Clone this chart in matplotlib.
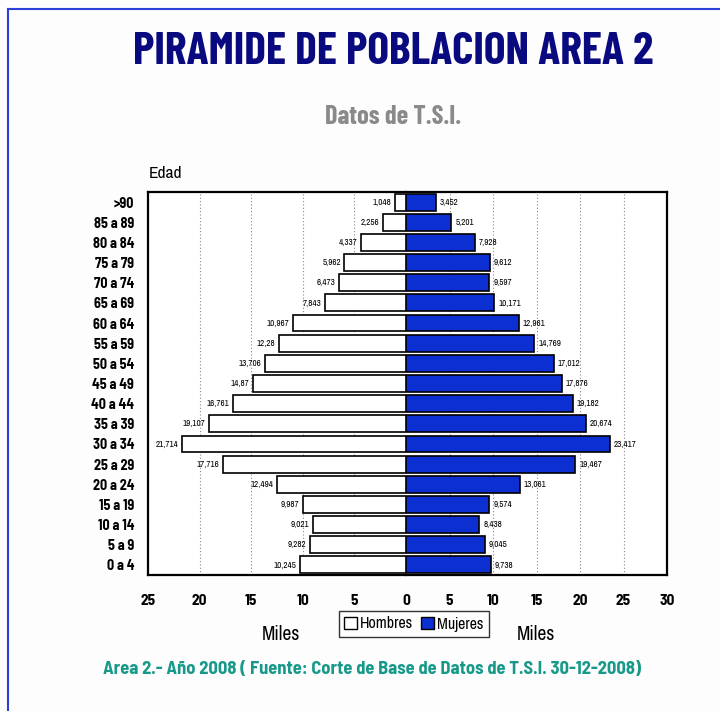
import matplotlib
matplotlib.use("Agg")
import matplotlib.pyplot as plt
from matplotlib.patches import Patch
from matplotlib.lines import Line2D

ages = ["0 a 4", "5 a 9", "10 a 14", "15 a 19", "20 a 24", "25 a 29", "30 a 34",
        "35 a 39", "40 a 44", "45 a 49", "50 a 54", "55 a 59", "60 a 64", "65 a 69",
        "70 a 74", "75 a 79", "80 a 84", "85 a 89", ">90"]
hombres = [10.245, 9.282, 9.021, 9.987, 12.494, 17.716, 21.714, 19.107, 16.761, 14.87,
           13.706, 12.28, 10.967, 7.843, 6.473, 5.962, 4.337, 2.256, 1.048]
mujeres = [9.738, 9.045, 8.438, 9.574, 13.061, 19.467, 23.417, 20.674, 19.182, 17.876,
           17.012, 14.769, 12.961, 10.171, 9.597, 9.612, 7.928, 5.201, 3.452]
left_ticks = [25, 20, 15, 10, 5, 0]
right_ticks = [5, 10, 15, 20, 25, 30]

NARROW = ["Archivo Narrow", "Liberation Sans", "DejaVu Sans"]
BOLDN = ["Barlow Semi Condensed", "Liberation Sans", "DejaVu Sans"]
BOLDC = ["Barlow Condensed", "Barlow Semi Condensed", "Liberation Sans", "DejaVu Sans"]

def fmt(v):
    s = f"{v:.3f}".rstrip("0").rstrip(".")
    return s.replace(".", ",")

fig = plt.figure(figsize=(7.2, 7.11), dpi=100)
fig.patch.set_facecolor("#fdfdfd")

fig.add_artist(Line2D([8/720, 8/720], [0, 1 - 9/711], color="#2a40d8", lw=1.5, transform=fig.transFigure))
fig.add_artist(Line2D([8/720, 1], [1 - 9/711, 1 - 9/711], color="#2a40d8", lw=1.5, transform=fig.transFigure))

bottom = 1 - 575/711
height = 383/711
axL = fig.add_axes([148/720, bottom, 258/720, height])
axR = fig.add_axes([406/720, bottom, 261/720, height])

y = list(range(len(ages)))
bh = 0.84
axL.barh(y, hombres, height=bh, color="white", edgecolor="black", linewidth=1.2, zorder=3)
axR.barh(y, mujeres, height=bh, color="#0b2fd0", edgecolor="black", linewidth=1.2, zorder=3)

axL.set_xlim(25, 0)
axR.set_xlim(0, 30)
for ax in (axL, axR):
    ax.set_ylim(-0.5, len(ages) - 0.5)
    ax.set_facecolor("white")
    for g in [5, 10, 15, 20, 25]:
        ax.axvline(g, color="#888888", lw=0.8, ls=(0, (1, 2)), zorder=1)
    for s in ax.spines.values():
        s.set_linewidth(1.6)
    ax.tick_params(axis="x", length=0, pad=14)

axL.spines["right"].set_visible(False)
axR.spines["left"].set_visible(False)
axL.set_xticks(left_ticks)
axL.set_xticklabels([str(t) for t in left_ticks], fontfamily=BOLDN, fontweight="bold", fontsize=11)
axR.set_xticks(right_ticks)
axR.set_xticklabels([str(t) for t in right_ticks], fontfamily=BOLDN, fontweight="bold", fontsize=11)

axL.set_yticks(y)
axL.set_yticklabels(ages, fontfamily=BOLDN, fontweight="bold", fontsize=10.2)
axL.tick_params(axis="y", length=0, pad=10)
axR.set_yticks([])

for yi, v in zip(y, hombres):
    axL.text(v + 0.35, yi, fmt(v), ha="right", va="center", fontsize=6.5,
             fontfamily=NARROW, zorder=4)
for yi, v in zip(y, mujeres):
    axR.text(v + 0.45, yi, fmt(v), ha="left", va="center", fontsize=6.5,
             fontfamily=NARROW, zorder=4)

fig.text(393/720, 1 - 52/711, "PIRAMIDE DE POBLACION AREA 2", ha="center", va="center",
         fontsize=33, fontweight="bold", color="#0a0a80", fontfamily=BOLDC)
fig.text(393/720, 1 - 117/711, "Datos de T.S.I.", ha="center", va="center",
         fontsize=19, fontweight="bold", color="#8a8a8a", fontfamily=BOLDC)
fig.text(149/720, 1 - 173/711, "Edad", ha="left", va="center", fontsize=12.5,
         fontfamily=NARROW)
fig.text(281/720, 1 - 635/711, "Miles", ha="center", va="center", fontsize=14,
         fontfamily=NARROW)
fig.text(536/720, 1 - 635/711, "Miles", ha="center", va="center", fontsize=14,
         fontfamily=NARROW)
fig.text(372/720, 1 - 669/711,
         "Area 2.- A\u00f1o 2008 ( Fuente: Corte de Base de Datos de T.S.I. 30-12-2008)",
         ha="center", va="center", fontsize=13.3, fontweight="bold", color="#17998a",
         fontfamily=BOLDN)

handles = [Patch(facecolor="white", edgecolor="black", label="Hombres"),
           Patch(facecolor="#0b2fd0", edgecolor="black", label="Mujeres")]
leg = fig.legend(handles=handles, loc="center", bbox_to_anchor=(414/720, 1 - 624/711),
                 ncol=2, frameon=True, fancybox=False,
                 prop={"family": NARROW, "size": 11.5},
                 handlelength=0.8, handleheight=0.8, handletextpad=0.2,
                 columnspacing=0.5, borderpad=0.35, borderaxespad=0)
leg.get_frame().set_edgecolor("black")
leg.get_frame().set_linewidth(1.0)

fig.savefig("out.png", dpi=100, facecolor=fig.get_facecolor())
